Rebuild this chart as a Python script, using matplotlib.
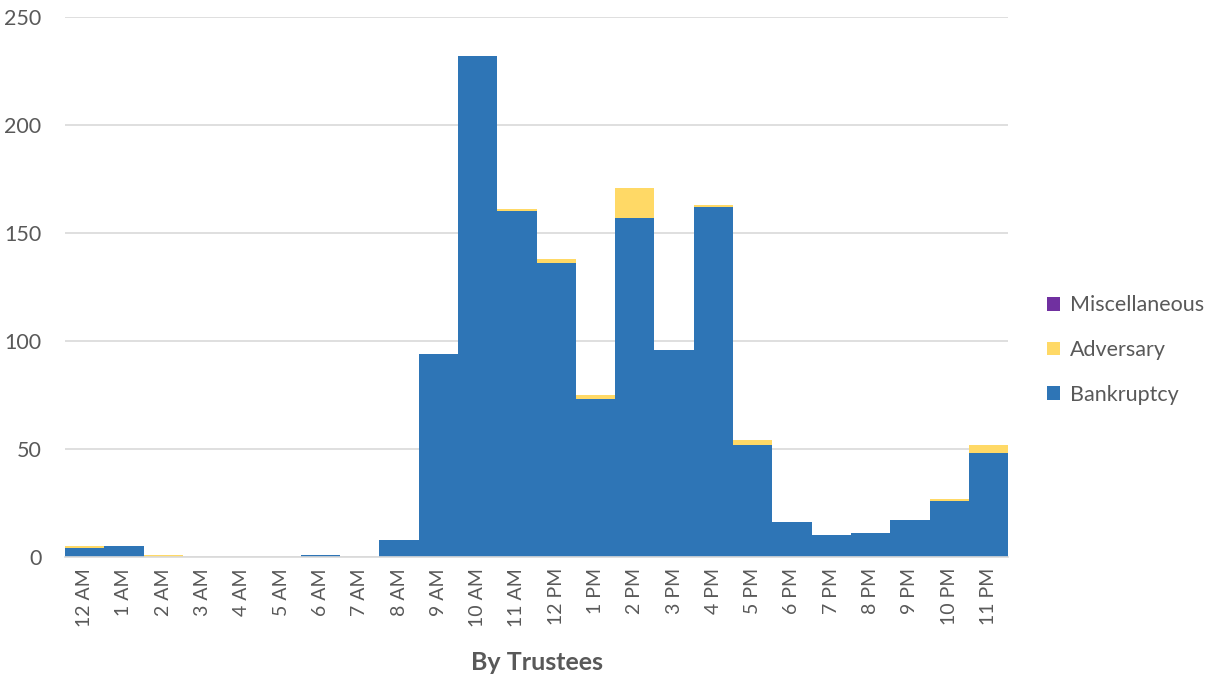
import numpy as np
import matplotlib.pyplot as plt

# ====================== 数据 ======================
hours = ["12 AM", "1 AM", "2 AM", "3 AM", "4 AM", "5 AM", "6 AM", "7 AM",
         "8 AM", "9 AM", "10 AM", "11 AM", "12 PM", "1 PM", "2 PM", "3 PM",
         "4 PM", "5 PM", "6 PM", "7 PM", "8 PM", "9 PM", "10 PM", "11 PM"]
bankruptcy = [4, 5, 0, 0, 0, 0, 1, 0, 8, 94, 232, 160, 136, 73, 157, 96,
              162, 52, 16, 10, 11, 17, 26, 48]
adversary = [1, 0, 1, 0, 0, 0, 0, 0, 0, 0, 0, 1, 2, 2, 14, 0,
             1, 2, 0, 0, 0, 0, 1, 4]
miscellaneous = [0] * 24

plt.rcParams['font.family'] = ['Lato', 'DejaVu Sans']

fig = plt.figure(figsize=(12.19, 6.83), dpi=100)
ax = fig.add_axes([0.0533, 0.1845, 0.7737, 0.7906])

x = np.arange(len(hours))
b = np.array(bankruptcy)
a = np.array(adversary)
m = np.array(miscellaneous)

ax.bar(x, b, width=1.0, color='#2E75B6', label='Bankruptcy', zorder=2)
ax.bar(x, a, width=1.0, bottom=b, color='#FFD966', label='Adversary', zorder=2)
ax.bar(x, m, width=1.0, bottom=b + a, color='#7030A0', label='Miscellaneous', zorder=2)

ax.set_xlim(-0.5, len(hours) - 0.5)
ax.set_ylim(0, 250)
ax.set_yticks([0, 50, 100, 150, 200, 250])
ax.yaxis.grid(True, color='#D9D9D9', linewidth=1.2, zorder=0)
ax.set_axisbelow(True)

for s in ['top', 'right', 'left']:
    ax.spines[s].set_visible(False)
ax.spines['bottom'].set_color('#D9D9D9')
ax.spines['bottom'].set_linewidth(1.2)

ax.set_xticks(x)
ax.set_xticklabels(hours, rotation=90, fontsize=14, color='#595959')
ax.tick_params(axis='x', length=0, pad=8)
ax.tick_params(axis='y', length=0, labelsize=15.5, labelcolor='#595959', pad=17)

ax.set_xlabel('By Trustees', fontsize=18, fontweight='bold', color='#595959', labelpad=17)

handles, labels = ax.get_legend_handles_labels()
leg = fig.legend(handles[::-1], labels[::-1], loc='center left',
                 bbox_to_anchor=(0.843, 0.4875), frameon=False, fontsize=15.5,
                 handlelength=0.6, handleheight=0.6, handletextpad=0.45,
                 labelspacing=1.15, labelcolor='#595959')

fig.savefig('out.png', dpi=100)
